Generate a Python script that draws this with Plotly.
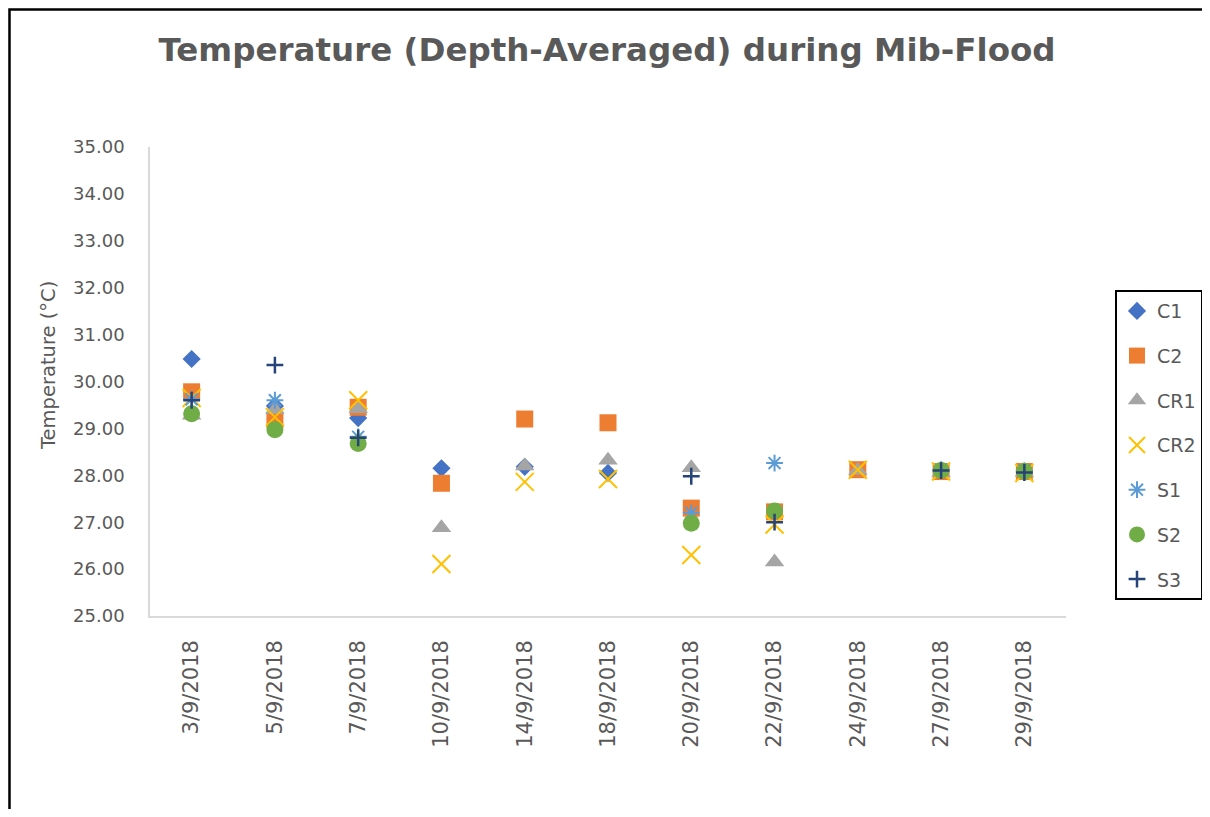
import plotly.graph_objects as go

# datas das campanhas
datas = ['3/9/2018', '5/9/2018', '7/9/2018', '10/9/2018', '14/9/2018', '18/9/2018',
         '20/9/2018', '22/9/2018', '24/9/2018', '27/9/2018', '29/9/2018']

# temperatura media na profundidade por estacao
c1 = [30.48, 29.48, 29.22, 28.15, 28.18, 28.05, None, None, None, None, None]
c2 = [29.78, 29.18, 29.45, 27.83, 29.20, 29.12, 27.30, 27.22, 28.12, 28.08, 28.08]
cr1 = [29.28, 29.40, 29.42, 26.88, 28.20, 28.32, 28.16, 26.15, 28.10, 28.06, 28.06]
cr2 = [29.65, 29.24, 29.60, 26.11, 27.86, 27.92, 26.30, 26.95, 28.12, 28.08, 28.05]
s1 = [29.62, 29.60, 28.82, None, None, None, 27.20, 28.26, None, 28.12, 28.10]
s2 = [29.31, 28.97, 28.68, None, None, None, 26.98, 27.24, None, 28.10, 28.08]
s3 = [29.60, 30.35, 28.80, None, None, None, 27.98, 27.00, None, 28.10, 28.06]

cinza = '#595959'
fonte = 'DejaVu Sans'

series = [
    ('C1', c1, dict(symbol='diamond', size=14, color='#4472C4')),
    ('C2', c2, dict(symbol='square', size=17, color='#ED7D31')),
    ('CR1', cr1, dict(symbol='triangle-up', size=17, color='#A5A5A5')),
    ('CR2', cr2, dict(symbol='x-thin-open', size=18, color='#FFC000',
                      line=dict(color='#FFC000', width=2))),
    ('S1', s1, dict(symbol='asterisk-open', size=14, color='#5B9BD5',
                    line=dict(color='#5B9BD5', width=2))),
    ('S2', s2, dict(symbol='circle', size=17, color='#70AD47')),
    ('S3', s3, dict(symbol='cross-thin-open', size=12, color='#264478',
                    line=dict(color='#264478', width=2.5))),
]

fig = go.Figure()
for nome, valores, marcador in series:
    fig.add_trace(go.Scatter(x=datas, y=valores, mode='markers', name=nome,
                             legendgroup=nome, marker=marcador))

# o body da pagina tem 8px de margem: a figura fica 16px menor para nao criar barras de rolagem
fig.update_layout(
    width=1194, height=801,
    margin=dict(l=142, r=136, t=139, b=193, autoexpand=False),
    paper_bgcolor='white', plot_bgcolor='white',
    font=dict(family=fonte, size=18, color=cinza),
    title=dict(text='<b>Temperature (Depth-Averaged) during Mib-Flood</b>',
               x=0.5017, xanchor='center', y=0.9476, yanchor='middle',
               font=dict(family=fonte, size=32.5, color=cinza)),
    legend=dict(x=1.0535, y=0.695, xanchor='left', yanchor='top',
                bordercolor='black', borderwidth=2, tracegroupgap=17,
                font=dict(family=fonte, size=19, color=cinza), itemwidth=30),
    shapes=[dict(type='rect', xref='paper', yref='paper',
                 x0=-0.1534, x1=1.3, y0=-0.5, y1=1.2932,
                 line=dict(color='black', width=2.5))],
    annotations=[dict(text='Temperature (°C)', textangle=-90, showarrow=False,
                      xref='paper', yref='paper', x=-0.1114, y=0.535,
                      xanchor='center', yanchor='middle',
                      font=dict(family=fonte, size=19.5, color=cinza))],
)

fig.update_xaxes(type='category', range=[-0.5, 10.5], tickangle=-90,
                 tickfont=dict(family=fonte, size=21, color=cinza),
                 showline=True, linecolor='#D9D9D9', linewidth=1.5,
                 showgrid=False, zeroline=False, ticks='', ticklabelstandoff=14)
fig.update_yaxes(range=[25, 35], dtick=1, tickformat='.2f',
                 showline=True, linecolor='#D9D9D9', linewidth=1.5,
                 showgrid=False, zeroline=False, ticks='', ticklabelstandoff=20)

fig.write_html('out.html')
